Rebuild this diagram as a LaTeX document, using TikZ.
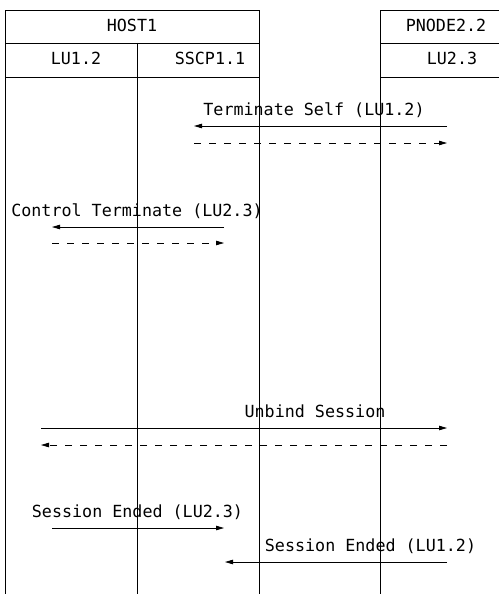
\documentclass[tikz,border=0pt]{standalone}
\usepackage{fontspec}
\newfontfamily\sysfont{DejaVu Sans Mono}
\usetikzlibrary{arrows.meta}

\begin{document}
\begin{tikzpicture}[x=1pt,y=-1pt,line width=0.8pt,>={Triangle[length=8pt,width=4.5pt]},
  lbl/.style={font=\sysfont\fontsize{16.7}{20}\selectfont,inner sep=0pt,anchor=base},
  reply/.style={->,dash pattern=on 7pt off 8pt}]
\useasboundingbox (0,0) rectangle (499,594);
% header boxes and lifelines
\draw (5,594) -- (5,10) -- (259,10) -- (259,594);
\draw (380,594) -- (380,10) -- (499,10);
\draw (5,43) -- (259,43) (380,43) -- (499,43);
\draw (5,77) -- (259,77) (380,77) -- (499,77);
\draw (137,43) -- (137,594);
\node[lbl] (host) at (132,32) {HOST1};
\node[lbl] (pnode) at (446,32) {PNODE2.2};
\node[lbl] (lua) at (76,65) {LU1.2};
\node[lbl] (sscp) at (210,65) {SSCP1.1};
\node[lbl] (lub) at (452,65) {LU2.3};
% message end points
\coordinate (tsR) at (447,126);
\coordinate (tsL) at (194,126);
\coordinate (tsrL) at (194,143);
\coordinate (tsrR) at (447,143);
\coordinate (ctR) at (224,227);
\coordinate (ctL) at (52,227);
\coordinate (ctrL) at (52,243);
\coordinate (ctrR) at (224,243);
\coordinate (ubL) at (41,428);
\coordinate (ubR) at (447,428);
\coordinate (ubrR) at (447,445);
\coordinate (ubrL) at (41,445);
\coordinate (seaL) at (52,528);
\coordinate (seaR) at (224,528);
\coordinate (sebR) at (447,562);
\coordinate (sebL) at (225,562);
% terminate self
\node[lbl] (termself) at (314,115) {Terminate Self (LU1.2)};
\draw[->] (tsR) -- (tsL);
\draw[reply] (tsrL) -- (tsrR);
% control terminate
\node[lbl] (ctrlterm) at (137,216) {Control Terminate (LU2.3)};
\draw[->] (ctR) -- (ctL);
\draw[reply] (ctrL) -- (ctrR);
% unbind
\node[lbl] (unbind) at (315,417) {Unbind Session};
\draw[->] (ubL) -- (ubR);
\draw[reply] (ubrR) -- (ubrL);
% session ended
\node[lbl] (endedb) at (137.5,517) {Session Ended (LU2.3)};
\draw[->] (seaL) -- (seaR);
\node[lbl] (endeda) at (370.5,551) {Session Ended (LU1.2)};
\draw[->] (sebR) -- (sebL);
\end{tikzpicture}
\end{document}
